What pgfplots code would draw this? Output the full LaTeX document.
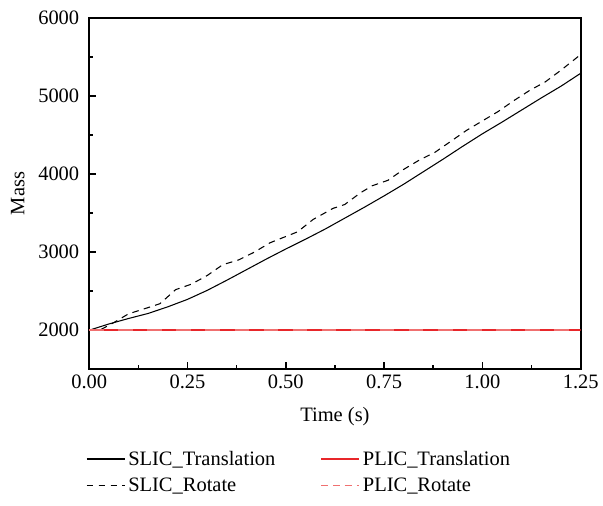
\documentclass[border=0pt]{standalone}
\usepackage{fontspec}
\setmainfont{Liberation Serif}
\usepackage{pgfplots}
\pgfplotsset{compat=1.18}
\definecolor{plicred}{RGB}{232,38,42}
\definecolor{plicpink}{RGB}{240,112,112}

\begin{document}
\begin{tikzpicture}
\begin{axis}[
    scale only axis,
    width=372pt, height=266pt,
    xmin=0, xmax=1.25,
    ymin=1500, ymax=6000,
    xtick={0,0.25,0.5,0.75,1,1.25},
    ytick={2000,3000,4000,5000,6000},
    minor x tick num=1,
    minor y tick num=1,
    xtick pos=bottom, ytick pos=left,
    tick align=inside,
    major tick length=5.5pt,
    minor tick length=3pt,
    every tick/.style={black, line width=1.2pt},
    axis line style={line width=1.6pt},
    /pgf/number format/assume math mode=true,
    xticklabel style={yshift=-1pt, /pgf/number format/.cd, fixed, fixed zerofill, precision=2},
    yticklabel style={xshift=-4pt, /pgf/number format/1000 sep={}},
    tick label style={font=\fontsize{15.5}{18}\selectfont},
    label style={font=\fontsize{15.5}{18}\selectfont},
    xlabel={Time (s)},
    ylabel={Mass},
    xlabel style={at={(axis description cs:0.5,-0.1353)}, anchor=center},
    ylabel style={at={(axis description cs:-0.1452,0.5)}, anchor=center},
    legend columns=2,
    legend style={draw=none, inner sep=0pt, outer sep=0pt,
        at={(axis description cs:-0.006,-0.2247)}, anchor=north west,
        font=\fontsize{15.5}{18}\selectfont,
        /tikz/every even column/.append style={column sep=32pt},
        row sep=4pt},
    legend cell align=left,
    legend image code/.code={\path (0pt,0pt) -- (29pt,0pt); \draw[#1] (0pt,0pt) -- (25pt,0pt);},
]
% SLIC_Translation
\addplot[black, line width=0.8pt] coordinates {
    (0,2000) (0.05,2080) (0.10,2150) (0.15,2215) (0.20,2300) (0.25,2395)
    (0.30,2510) (0.35,2640) (0.40,2775) (0.45,2910) (0.50,3040) (0.55,3165)
    (0.60,3295) (0.65,3435) (0.70,3575) (0.75,3720) (0.80,3870) (0.85,4030)
    (0.90,4190) (0.95,4355) (1.00,4515) (1.05,4665) (1.10,4820) (1.15,4975)
    (1.20,5125) (1.25,5290)
};
\addlegendentry{SLIC\_Translation}
% PLIC_Translation
\addplot[plicred, line width=1.2pt] coordinates {(0,2000) (1.25,2000)};
\addlegendentry{PLIC\_Translation}
% SLIC_Rotate
\addplot[black, line width=0.8pt, dash pattern=on 5pt off 4pt] coordinates {
    (0,2000) (0.03,2010) (0.06,2090) (0.10,2210) (0.15,2290) (0.18,2340)
    (0.22,2520) (0.26,2590) (0.30,2700) (0.34,2840) (0.38,2900) (0.42,3000)
    (0.46,3120) (0.50,3200) (0.53,3260) (0.57,3420) (0.62,3560) (0.65,3610)
    (0.69,3760) (0.72,3850) (0.76,3920) (0.80,4060) (0.84,4180) (0.88,4280)
    (0.92,4420) (0.96,4560) (1.00,4680) (1.04,4800) (1.08,4940) (1.12,5070)
    (1.16,5180) (1.20,5330) (1.25,5530)
};
\addlegendentry{SLIC\_Rotate}
% PLIC_Rotate
\addplot[plicpink, line width=1.2pt, dash pattern=on 11pt off 11pt, forget plot] coordinates {(0,2000) (1.25,2000)};
\addlegendimage{plicpink, line width=1.2pt, dash pattern=on 5pt off 4pt}
\addlegendentry{PLIC\_Rotate}
\end{axis}
% page margins
\path ([xshift=-67.5pt,yshift=13.5pt]current axis.north west)
    rectangle ([xshift=12.5pt,yshift=-103pt]current axis.south east);
\end{tikzpicture}
\end{document}
